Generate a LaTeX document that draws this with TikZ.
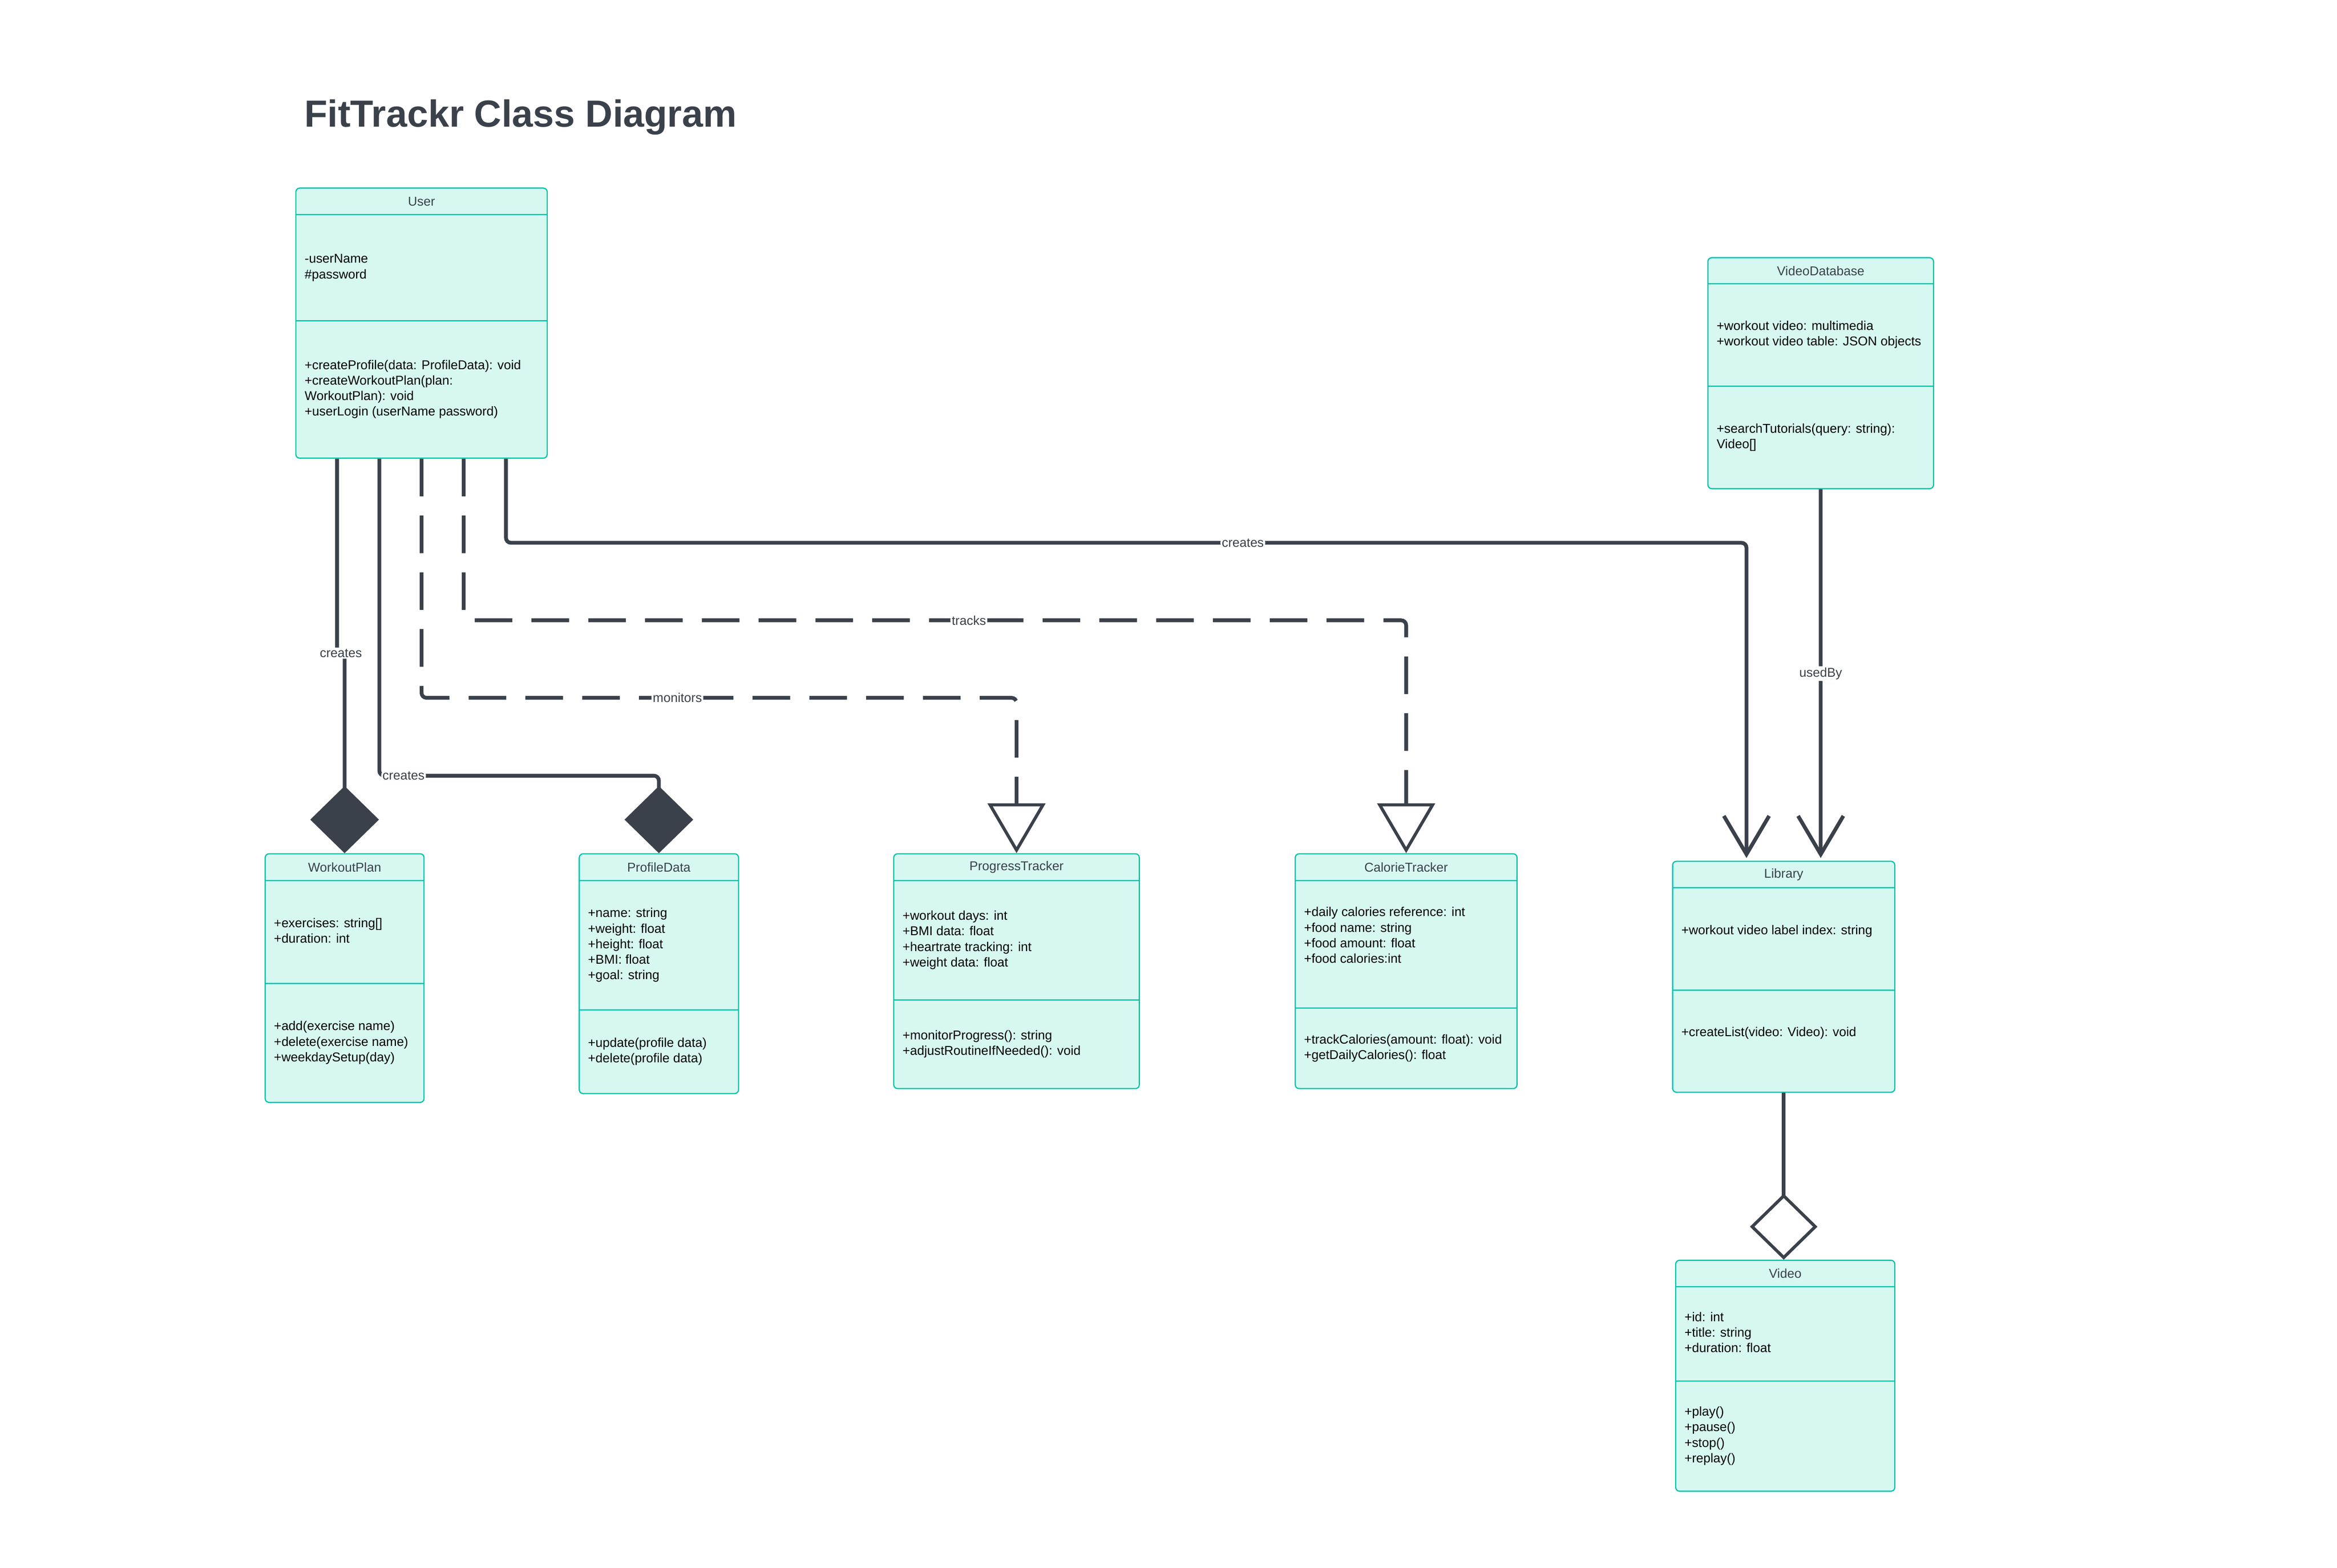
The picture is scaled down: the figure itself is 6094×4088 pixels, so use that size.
\documentclass[tikz,border=0pt]{standalone}
\usepackage{fontspec}
\setmainfont{Liberation Sans}
\usetikzlibrary{arrows.meta,shapes.multipart,positioning}

\definecolor{ink}{HTML}{3A414A}
\definecolor{mint}{HTML}{D6F8F1}
\definecolor{classline}{HTML}{00C2A8}

\newcommand{\classhead}[3]{\parbox[c][#1][c]{#2}{\centering\textcolor{ink}{#3}}}
\newcommand{\classbody}[3]{\parbox[c][#1][c]{#2}{\begin{tabular}{@{}l@{}}#3\end{tabular}}}

\begin{document}
\begin{tikzpicture}[x=0.01cm,y=-0.01cm,
  umlclass/.style={rectangle split, rectangle split parts=3, draw=classline, fill=mint,
    line width=0.85pt, rounded corners=0.1cm, inner xsep=0.23cm, inner ysep=0pt,
    anchor=north west, font=\fontsize{9.5}{11.5}\selectfont},
  conn/.style={draw=ink, line width=2.8pt, rounded corners=0.13cm},
  dep/.style={conn, dash pattern=on 0.98cm off 0.5cm},
  lbl/.style={fill=white, text=ink, inner sep=1pt, font=\fontsize{9.5}{11.5}\selectfont},
  comp/.style={-{Diamond[length=1.75cm,width=1.79cm]}},
  aggr/.style={-{Diamond[open,fill=white,length=1.72cm,width=1.76cm,line width=2.3pt]}},
  real/.style={-{Triangle[open,fill=white,length=1.3cm,width=1.5cm,line width=2.3pt]}},
  nav/.style={-{Straight Barb[length=1cm,width=1.18cm]}}]

\useasboundingbox (0,0) rectangle (6094,4088);

\node[anchor=base west, inner sep=0, text=ink, font=\fontsize{28}{34}\selectfont\bfseries] (title) at (793,331) {FitTrackr Class Diagram};

% classes
\node[umlclass] (user) at (770,489) {\classhead{0.66cm}{6.09cm}{User}
  \nodepart{two}\classbody{2.74cm}{6.09cm}{-userName\\\#password}
  \nodepart{three}\classbody{3.55cm}{6.09cm}{+createProfile(data: ProfileData): void\\+createWorkoutPlan(plan:\\WorkoutPlan): void\\+userLogin (userName password)}};

\node[umlclass] (wplan) at (690,2225) {\classhead{0.67cm}{3.68cm}{WorkoutPlan}
  \nodepart{two}\classbody{2.65cm}{3.68cm}{+exercises: string[]\\+duration: int}
  \nodepart{three}\classbody{3.07cm}{3.68cm}{+add(exercise name)\\+delete(exercise name)\\+weekdaySetup(day)}};

\node[umlclass] (pdata) at (1509,2225) {\classhead{0.67cm}{3.69cm}{ProfileData}
  \nodepart{two}\classbody{3.34cm}{3.69cm}{+name: string\\+weight: float\\+height: float\\+BMI: float\\+goal: string}
  \nodepart{three}\classbody{2.15cm}{3.69cm}{+update(profile data)\\+delete(profile data)}};

\node[umlclass] (ptrack) at (2329,2225) {\classhead{0.67cm}{5.94cm}{ProgressTracker}
  \nodepart{two}\classbody{3.08cm}{5.94cm}{+workout days: int\\+BMI data: float\\+heartrate tracking: int\\+weight data: float}
  \nodepart{three}\classbody{2.28cm}{5.94cm}{+monitorProgress(): string\\+adjustRoutineIfNeeded(): void}};

\node[umlclass] (ctrack) at (3376,2225) {\classhead{0.67cm}{5.32cm}{CalorieTracker}
  \nodepart{two}\classbody{3.29cm}{5.32cm}{+daily calories reference: int\\+food name: string\\+food amount: float\\+food calories:int\\ \mbox{}}
  \nodepart{three}\classbody{2.07cm}{5.32cm}{+trackCalories(amount: float): void\\+getDailyCalories(): float}};

\node[umlclass] (vdb) at (4452,670.5) {\classhead{0.65cm}{5.42cm}{VideoDatabase}
  \nodepart{two}\classbody{2.64cm}{5.42cm}{+workout video: multimedia\\+workout video table: JSON objects}
  \nodepart{three}\classbody{2.64cm}{5.42cm}{+searchTutorials(query: string):\\Video[]}};

\node[umlclass] (lib) at (4360,2244.5) {\classhead{0.66cm}{5.33cm}{Library}
  \nodepart{two}\classbody{2.64cm}{5.33cm}{+workout video label index: string\\ \mbox{}}
  \nodepart{three}\classbody{2.63cm}{5.33cm}{+createList(video: Video): void\\ \mbox{}}};

\node[umlclass] (video) at (4368,3285) {\classhead{0.66cm}{5.25cm}{Video}
  \nodepart{two}\classbody{2.43cm}{5.25cm}{+id: int\\+title: string\\+duration: float}
  \nodepart{three}\classbody{2.84cm}{5.25cm}{+play()\\+pause()\\+stop()\\+replay()}};

% relations
\draw[conn, comp] ([xshift=-2.2cm]user.south) -- ++(0,507) -| node[pos=0.25, lbl] {creates} (wplan.north);
\draw[conn, comp] ([xshift=-1.1cm]user.south) |- node[pos=0.5, lbl, anchor=west] {creates} ([yshift=2.02cm]pdata.north) -- (pdata.north);
\draw[dep, real] (user.south) |- node[pos=0.715, lbl] {monitors} ([yshift=4.05cm]ptrack.north) -- (ptrack.north);
\draw[dep, real] ([xshift=1.1cm]user.south) |- node[pos=0.768, lbl] {tracks} ([yshift=6.07cm]ctrack.north) -- (ctrack.north);
\draw[conn, nav] ([xshift=2.2cm]user.south) |- node[pos=0.797, lbl] {creates} ([xshift=-0.97cm, yshift=8.285cm]lib.north) -- ([xshift=-0.97cm, yshift=0.07cm]lib.north);
\draw[conn, nav] (vdb.south) -- node[lbl] {usedBy} ([xshift=0.965cm, yshift=0.07cm]lib.north);
\draw[conn, aggr] (lib.south) -- (lib.south |- video.north);

\end{tikzpicture}
\end{document}
